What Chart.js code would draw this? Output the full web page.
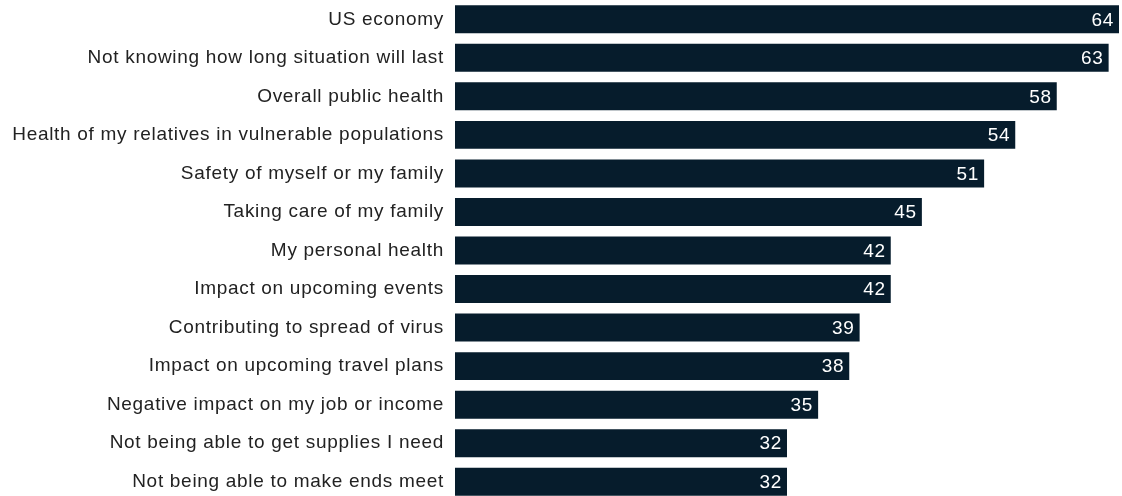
<!DOCTYPE html>
<html>
<head>
<meta charset="utf-8">
<script src="https://cdn.jsdelivr.net/npm/chart.js@4/dist/chart.umd.min.js"></script>
<style>
  html, body { margin: 0; padding: 0; background: #fff; overflow: hidden; }
  #wrap { position: relative; width: 1122px; height: 501px; }
</style>
</head>
<body>
<div id="wrap"><canvas id="chart"></canvas></div>
<script>
const concerns = [
  "US economy",
  "Not knowing how long situation will last",
  "Overall public health",
  "Health of my relatives in vulnerable populations",
  "Safety of myself or my family",
  "Taking care of my family",
  "My personal health",
  "Impact on upcoming events",
  "Contributing to spread of virus",
  "Impact on upcoming travel plans",
  "Negative impact on my job or income",
  "Not being able to get supplies I need",
  "Not being able to make ends meet",
];

const shares = [64, 63, 58, 54, 51, 45, 42, 42, 39, 38, 35, 32, 32];

const barColor = "#061c2c";
const fontFamily = "'Liberation Sans', Arial, Helvetica, sans-serif";

// slightly looser tracking for all text on the canvas
const tracking = {
  id: "tracking",
  beforeDraw(chart) {
    chart.ctx.letterSpacing = "0.7px";
  },
};

// white value written just inside the end of each bar
const valueLabels = {
  id: "valueLabels",
  afterDatasetsDraw(chart) {
    const { ctx } = chart;
    const meta = chart.getDatasetMeta(0);
    ctx.save();
    ctx.fillStyle = "#ffffff";
    ctx.font = `19px ${fontFamily}`;
    ctx.textAlign = "right";
    ctx.textBaseline = "middle";
    meta.data.forEach((bar, i) => {
      ctx.fillText(String(shares[i]), bar.x - 5, bar.y + 1);
    });
    ctx.restore();
  },
};

new Chart(document.getElementById("chart"), {
  type: "bar",
  data: {
    labels: concerns,
    datasets: [{
      data: shares,
      backgroundColor: barColor,
      borderWidth: 0,
      barPercentage: 0.726,
      categoryPercentage: 1,
    }],
  },
  options: {
    indexAxis: "y",
    responsive: true,
    maintainAspectRatio: false,
    animation: false,
    layout: { padding: { top: 0, right: 3, bottom: 0, left: 0 } },
    scales: {
      x: {
        display: false,
        min: 0,
        max: 64,
      },
      y: {
        afterFit(scale) {
          scale.width = 455;
          scale.paddingTop = 0;
          scale.paddingBottom = 0;
        },
        grid: { display: false, drawTicks: false },
        border: { display: false },
        ticks: {
          color: "#222222",
          padding: 11,
          font: { family: fontFamily, size: 19 },
        },
      },
    },
    plugins: {
      legend: { display: false },
      tooltip: { enabled: false },
    },
  },
  plugins: [tracking, valueLabels],
});
</script>
</body>
</html>
